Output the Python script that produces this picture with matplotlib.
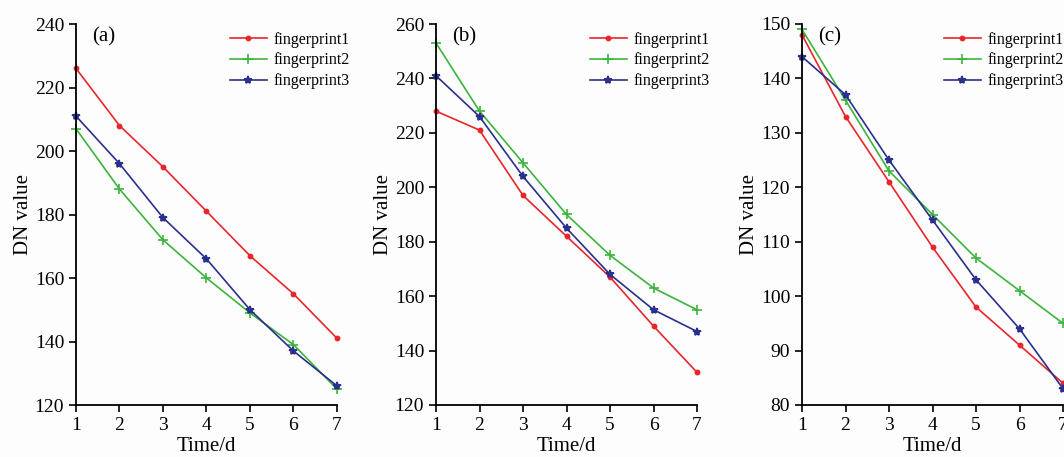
import matplotlib
matplotlib.use("Agg")
import matplotlib.pyplot as plt

plt.rcParams['font.family'] = ['Liberation Serif', 'DejaVu Serif']

days = [1, 2, 3, 4, 5, 6, 7]
series_names = ["fingerprint1", "fingerprint2", "fingerprint3"]

a_fp1 = [226, 208, 195, 181, 167, 155, 141]
a_fp2 = [207, 188, 172, 160, 149, 139, 125]
a_fp3 = [211, 196, 179, 166, 150, 137, 126]

b_fp1 = [228, 221, 197, 182, 167, 149, 132]
b_fp2 = [253, 228, 209, 190, 175, 163, 155]
b_fp3 = [241, 226, 204, 185, 168, 155, 147]

c_fp1 = [148, 133, 121, 109, 98, 91, 84]
c_fp2 = [149, 136, 123, 115, 107, 101, 95]
c_fp3 = [144, 137, 125, 114, 103, 94, 83]

panel_labels = ["(a)", "(b)", "(c)"]
ylims = [(120, 240), (120, 260), (80, 150)]
yticks = [list(range(120, 241, 20)), list(range(120, 261, 20)), list(range(80, 151, 10))]

panels = [(a_fp1, a_fp2, a_fp3), (b_fp1, b_fp2, b_fp3), (c_fp1, c_fp2, c_fp3)]

colors = ["#e8262a", "#3cb43c", "#2a2f8e"]
markers = ["o", "+", "*"]
msizes = [3, 7, 6]

fig = plt.figure(figsize=(10.64, 4.57), dpi=100)
fig.patch.set_facecolor("#fdfdfd")
lefts = [76 / 1064, 436 / 1064, 802 / 1064]
W = 261 / 1064
bottom = (457 - 405) / 457
H = (405 - 24) / 457
leg_x = [(230 - 76) / 261, (590 - 436) / 261, (944 - 802) / 261]

for i, (data, lab) in enumerate(zip(panels, panel_labels)):
    ax = fig.add_axes([lefts[i], bottom, W, H])
    ax.set_facecolor("none")
    for j, ys in enumerate(data):
        ax.plot(days, ys, color=colors[j], marker=markers[j], markersize=msizes[j],
                markeredgewidth=1.2, linewidth=1.2, label=series_names[j], clip_on=False)
    ax.set_xlim(1, 7)
    ax.set_ylim(*ylims[i])
    ax.set_xticks(days)
    ax.set_yticks(yticks[i])
    ax.spines['top'].set_visible(False)
    ax.spines['right'].set_visible(False)
    ax.spines['left'].set_linewidth(1.3)
    ax.spines['bottom'].set_linewidth(1.3)
    ax.tick_params(direction='out', length=5, width=1.2, labelsize=14)
    ax.set_xlabel("Time/d", fontsize=15, labelpad=2)
    ax.set_ylabel("DN value", fontsize=15, labelpad=1)
    ax.text(0.06, 0.966, lab, transform=ax.transAxes, fontsize=15, va='center', ha='left')
    ax.legend(loc='upper left', bbox_to_anchor=(leg_x[i], 0.98), frameon=False, fontsize=11.5,
              handlelength=2.3, handletextpad=0.4, labelspacing=0.3, borderaxespad=0,
              borderpad=0)

fig.savefig("out.png", dpi=100, facecolor=fig.get_facecolor())
